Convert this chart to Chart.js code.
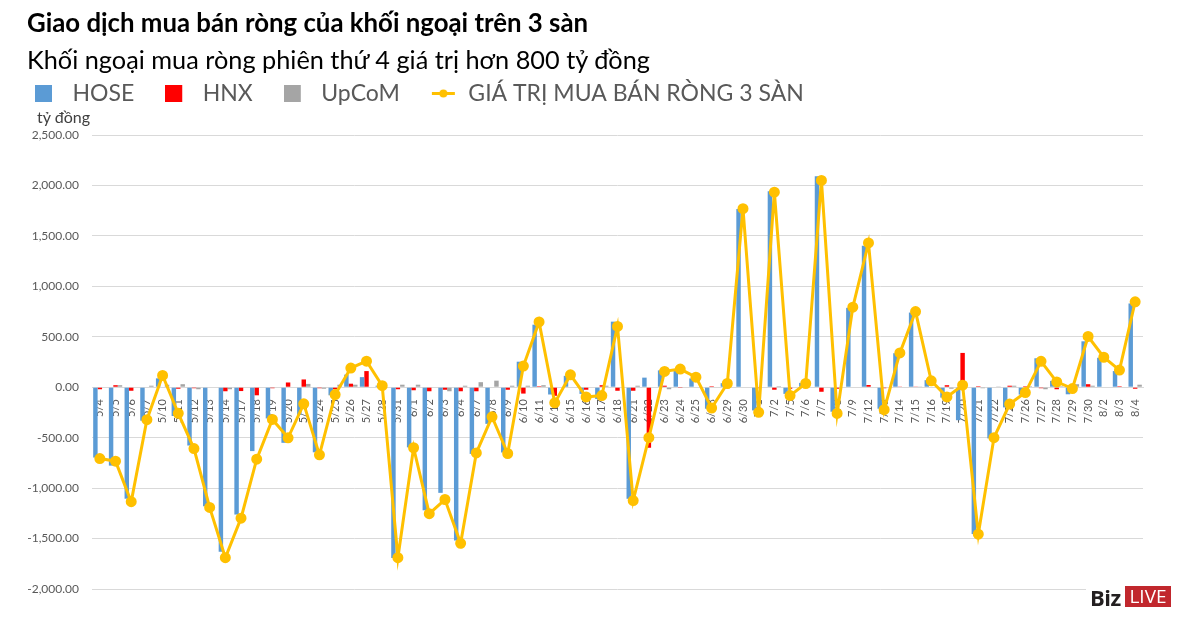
<!DOCTYPE html>
<html><head><meta charset="utf-8">
<script src="https://cdn.jsdelivr.net/npm/chart.js@4.4.0/dist/chart.umd.min.js"></script>
<style>
html,body{margin:0;padding:0;background:#fff;}
#wrap{position:relative;width:1200px;height:622px;overflow:hidden;font-family:Lato,sans-serif;}
#c{position:absolute;left:0;top:0;}
.t{position:absolute;white-space:nowrap;line-height:1;}
#title{left:27px;top:10px;font-size:25.8px;font-weight:700;color:#000;}
#sub{left:27px;top:47px;font-size:25.3px;color:#000;}
#unit{left:37px;top:109px;font-size:16px;color:#404040;}
#logo{position:absolute;left:1086px;top:583px;width:100px;height:28px;background:#fff;}
#biz{position:absolute;left:4px;top:4px;font-size:22px;font-weight:700;color:#231f20;line-height:20px;font-family:"Open Sans",sans-serif;letter-spacing:-0.5px;}
#live{position:absolute;left:39px;top:3px;width:46px;height:21px;background:#c1272d;color:#fff;font-size:19px;line-height:21px;text-align:center;font-family:"Open Sans",sans-serif;}
</style></head>
<body>
<div id="wrap">
<canvas id="c" width="1200" height="622"></canvas>
<div class="t" id="title">Giao dịch mua bán ròng của khối ngoại trên 3 sàn</div>
<div class="t" id="sub">Khối ngoại mua ròng phiên thứ 4 giá trị hơn 800 tỷ đồng</div>
<div class="t" id="unit">tỷ đồng</div>
<div id="logo"><span id="biz">Biz</span><span id="live">LIVE</span></div>
</div>
<script>
const labels = ['5/4','5/5','5/6','5/7','5/10','5/11','5/12','5/13','5/14','5/17','5/18','5/19','5/20','5/21','5/24','5/25','5/26','5/27','5/28','5/31',
'6/1','6/2','6/3','6/4','6/7','6/8','6/9','6/10','6/11','6/14','6/15','6/16','6/17','6/18','6/21','6/22','6/23','6/24','6/25','6/28','6/29','6/30',
'7/1','7/2','7/5','7/6','7/7','7/8','7/9','7/12','7/13','7/14','7/15','7/16','7/19','7/20','7/21','7/22','7/23','7/26','7/27','7/28','7/29','7/30',
'8/2','8/3','8/4'];
const hose = [-697,-777,-1105,-332,88,-285,-578,-1180,-1630,-1262,-633,-309,-551,-275,-645,-80,125,100,15,-1693,
-596,-1220,-1047,-1520,-661,-363,-647,253,620,-72,113,-66,-116,650,-1106,95,167,180,87,-213,40,1767,
-230,1943,-66,43,2090,-243,787,1403,-213,337,740,70,-103,-327,-1455,-507,-200,-73,287,63,-70,455,
292,160,830];
const hnx = [-20,20,-35,-5,5,-15,-10,-5,-40,-38,-80,-10,47,77,-10,-20,35,160,0,-20,
-30,-40,-25,-40,-40,5,-25,-63,10,-85,5,-25,20,-35,-35,-600,15,-2,5,10,-10,5,
-10,-25,-15,-5,-45,-15,5,22,-10,3,3,-5,20,340,10,5,15,10,-10,-20,22,30,
5,10,-15];
const upcom = [5,20,-5,15,25,30,-20,-5,-20,0,0,0,5,33,-15,25,25,0,0,25,
25,5,-40,15,50,65,15,15,20,5,5,-5,15,-5,15,5,-20,0,5,0,5,0,
-5,10,0,0,5,0,0,5,0,0,7,0,-15,5,-10,2,15,10,-20,10,30,15,
0,0,25];
const total = [-707,-733,-1135,-322,117,-259,-608,-1191,-1690,-1298,-713,-319,-501,-165,-670,-73,190,258,15,-1690,
-600,-1253,-1113,-1547,-651,-293,-657,210,647,-155,123,-96,-83,603,-1123,-500,157,180,100,-206,37,1770,
-249,1933,-83,37,2050,-260,793,1430,-223,340,750,63,-96,20,-1457,-500,-167,-53,257,53,-13,503,
297,170,847];
const seriesNames = ['HOSE','HNX','UpCoM','GIÁ TRỊ MUA BÁN RÒNG 3 SÀN'];
const colors = ['#5B9BD5','#FF0000','#A5A5A5','#FFC000'];

function fmt(v){
  const neg = v < 0; const a = Math.abs(v);
  const s = String(Math.floor(a)).replace(/\B(?=(\d{3})+(?!\d))/g, ',');
  return (neg ? '-' : '') + s + '.00';
}
function boxImg(color){
  const c = document.createElement('canvas'); c.width = 26; c.height = 17;
  const x = c.getContext('2d'); x.fillStyle = color; x.fillRect(0,0,17,17); return c;
}
function lineImg(color){
  const c = document.createElement('canvas'); c.width = 26; c.height = 17;
  const x = c.getContext('2d'); x.strokeStyle = color; x.lineWidth = 3;
  x.beginPath(); x.moveTo(1,8.5); x.lineTo(24,8.5); x.stroke();
  x.fillStyle = color; x.beginPath(); x.arc(12.5,8.5,4,0,Math.PI*2); x.fill(); return c;
}
const legendImgs = [boxImg(colors[0]), boxImg(colors[1]), boxImg(colors[2]), lineImg(colors[3])];

new Chart(document.getElementById('c'), {
  type: 'bar',
  data: {
    labels,
    datasets: [
      {label: seriesNames[0], data: hose, backgroundColor: colors[0], order: 1, categoryPercentage: 0.85, barPercentage: 1.0},
      {label: seriesNames[1], data: hnx, backgroundColor: colors[1], order: 1, categoryPercentage: 0.85, barPercentage: 1.0},
      {label: seriesNames[2], data: upcom, backgroundColor: colors[2], order: 1, categoryPercentage: 0.85, barPercentage: 1.0},
      {type: 'line', label: seriesNames[3], data: total, borderColor: colors[3], backgroundColor: colors[3],
       borderWidth: 3, pointRadius: 4, pointBackgroundColor: colors[3], pointBorderColor: colors[3], tension: 0, order: 0}
    ]
  },
  options: {
    responsive: false, animation: false,
    layout: {padding: {left: 4, top: 51, right: 57, bottom: 33}},
    plugins: {
      tooltip: {enabled: false},
      legend: {
        position: 'top', align: 'start',
        labels: {
          usePointStyle: true, pointStyleWidth: 26, padding: 31,
          font: {family: 'Lato', size: 23}, color: '#595959',
          sort: (a, b) => a.datasetIndex - b.datasetIndex,
          generateLabels(chart){
            const items = Chart.defaults.plugins.legend.labels.generateLabels(chart);
            items.forEach(it => { it.pointStyle = legendImgs[it.datasetIndex]; });
            return items;
          }
        }
      }
    },
    scales: {
      x: {
        position: {y: 0},
        grid: {display: false},
        border: {display: true, color: '#d9d9d9'},
        ticks: {autoSkip: false, minRotation: 90, maxRotation: 90, padding: 4,
                font: {family: 'Lato', size: 11}, color: '#595959'}
      },
      x2: {
        position: 'top', display: true,
        grid: {display: false, drawTicks: false},
        border: {display: false},
        ticks: {display: false},
        afterFit(s){ s.height = 20; }
      },
      y: {
        min: -2000, max: 2500,
        ticks: {stepSize: 500, callback: v => fmt(v), padding: 13,
                font: {family: 'Lato', size: 12}, color: '#595959'},
        grid: {color: '#d9d9d9', lineWidth: 1, drawTicks: false},
        border: {display: false},
        afterFit(s){ s.width = 88; }
      }
    }
  }
});
</script>
</body></html>
